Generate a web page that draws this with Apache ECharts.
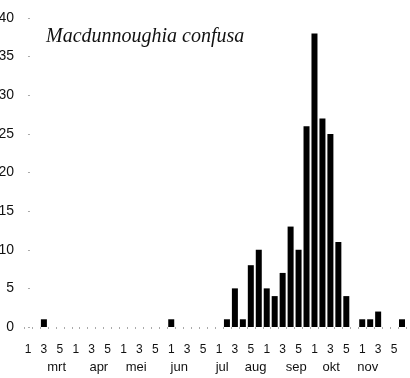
<!DOCTYPE html>
<html>
<head>
<meta charset="utf-8">
<script src="https://cdn.jsdelivr.net/npm/echarts@6/dist/echarts.min.js"></script>
<style>
    html, body { margin: 0; padding: 0; background: #fff; }
    #chart { width: 410px; height: 378px; }
</style>
</head>
<body>
<div id="chart"></div>
<script>
// pentads, 6 per month, 8 groups
const pentads = [
    "1", "2", "3", "4", "5", "6", "1", "2", "3", "4", "5", "6",
    "1", "2", "3", "4", "5", "6", "1", "2", "3", "4", "5", "6",
    "1", "2", "3", "4", "5", "6", "1", "2", "3", "4", "5", "6",
    "1", "2", "3", "4", "5", "6", "1", "2", "3", "4", "5", "6",
];
const counts = [
    0, 0, 1, 0, 0, 0, 0, 0, 0, 0, 0, 0,
    0, 0, 0, 0, 0, 0, 1, 0, 0, 0, 0, 0,
    0, 1, 5, 1, 8, 10, 5, 4, 7, 13, 10, 26,
    38, 27, 25, 11, 4, 0, 1, 1, 2, 0, 0, 1,
];
// month names sit under the pentads at these (pentad index) places
const monthNames = ["mrt", "apr", "mei", "jun", "jul", "aug", "sep", "okt", "nov"];
const monthPos = [3.6, 8.9, 13.6, 19.0, 24.4, 28.6, 33.7, 38.1, 42.7];
const yTicks = [0, 5, 10, 15, 20, 25, 30, 35, 40];

const option = {
    animation: false,
    title: {
        text: "Macdunnoughia confusa",
        left: 46,
        top: 27,
        padding: 0,
        textStyle: {
            fontFamily: "Liberation Serif",
            fontStyle: "italic",
            fontWeight: "normal",
            fontSize: 20,
            color: "#111",
        },
    },
    grid: {
        left: 24,
        right: 4,
        top: 18,
        bottom: 51,
        outerBoundsMode: "none",
        containLabel: false,
    },
    xAxis: [
        {
            type: "category",
            data: pentads,
            axisLine: { show: false },
            axisTick: {
                show: true,
                interval: 0,
                length: 2,
                lineStyle: { color: "#aaa" },
            },
            axisLabel: {
                interval: 1,
                margin: 17,
                fontSize: 12,
                fontFamily: "Liberation Sans",
                color: "#111",
            },
        },
        {
            type: "value",
            position: "bottom",
            min: -0.5,
            max: 47.5,
            axisLine: { show: false },
            axisTick: { show: false },
            splitLine: { show: false },
            axisLabel: {
                customValues: monthPos,
                margin: 34,
                fontSize: 13,
                fontFamily: "Liberation Sans",
                color: "#111",
                formatter: (v) => monthNames[monthPos.indexOf(v)] || "",
            },
        },
    ],
    yAxis: {
        type: "value",
        min: yTicks[0],
        max: yTicks[yTicks.length - 1],
        interval: 5,
        axisLine: { show: false },
        axisTick: {
            show: true,
            inside: true,
            length: 2,
            lineStyle: { color: "#aaa" },
        },
        splitLine: { show: false },
        axisLabel: {
            margin: 10,
            fontSize: 14,
            fontFamily: "Liberation Sans",
            color: "#111",
        },
    },
    series: [
        {
            type: "bar",
            data: counts,
            barWidth: 6,
            itemStyle: { color: "#000" },
        },
    ],
};

const chart = echarts.init(document.getElementById("chart"));
chart.setOption(option);
</script>
</body>
</html>
